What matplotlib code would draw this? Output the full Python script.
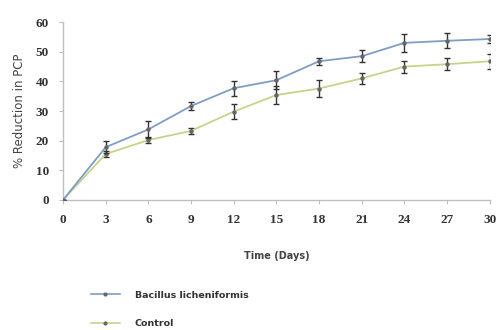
import matplotlib
matplotlib.use("Agg")
import matplotlib.pyplot as plt
from matplotlib.lines import Line2D

days = [0, 3, 6, 9, 12, 15, 18, 21, 24, 27, 30]
bacillus = [0, 17.8, 23.8, 31.7, 37.7, 40.4, 46.8, 48.5, 53.0, 53.7, 54.3]
bacillus_err = [0, 2.0, 3.0, 1.5, 2.5, 3.0, 1.2, 2.0, 3.0, 2.5, 1.5]
control = [0, 15.5, 20.2, 23.3, 29.8, 35.4, 37.6, 41.0, 45.0, 45.8, 46.8]
control_err = [0, 1.0, 1.0, 1.0, 2.5, 3.0, 3.0, 2.0, 2.0, 2.0, 2.5]
yticks = [0, 10, 20, 30, 40, 50, 60]
series_names = ["Bacillus licheniformis", "Control"]

fig = plt.figure(figsize=(5.02, 3.30), dpi=100)
ax = fig.add_axes([0.1255, 0.394, 0.850, 0.539])

blue = "#7f9dc6"
green = "#c5d48a"
ebar = "#333333"
mark = "#666666"

ax.errorbar(days, bacillus, yerr=bacillus_err, color=blue, lw=1.3,
            marker="o", ms=2.2, mfc=mark, mec=mark,
            ecolor=ebar, elinewidth=1.0, capsize=2.5, capthick=1.0, zorder=3)
ax.errorbar(days, control, yerr=control_err, color=green, lw=1.3,
            marker="o", ms=2.2, mfc=mark, mec=mark,
            ecolor=ebar, elinewidth=1.0, capsize=2.5, capthick=1.0, zorder=2)

ax.set_xlim(0, 30)
ax.set_ylim(0, 60)
ax.set_xticks(days)
ax.set_yticks(yticks)

tick_font = dict(family="Liberation Serif", weight="bold", size=9.5)
ax.set_xticklabels([str(d) for d in days], fontdict=tick_font, color="#333333")
ax.set_yticklabels([str(v) for v in yticks], fontdict=tick_font, color="#333333")

for side in ("top", "right"):
    ax.spines[side].set_visible(False)
for side in ("left", "bottom"):
    ax.spines[side].set_color("#bfbfbf")
    ax.spines[side].set_linewidth(1.0)
ax.tick_params(axis="both", length=3, color="#bfbfbf", pad=7)

ax.set_ylabel("% Reduction in PCP", fontsize=8.5, color="#444444",
              family="DejaVu Sans", labelpad=7)
ax.set_xlabel("Time (Days)", fontsize=7, fontweight="bold", color="#444444",
              family="DejaVu Sans", labelpad=18)

handles = [
    Line2D([], [], color=blue, lw=1.2, marker="o", ms=2, mfc=mark, mec=mark),
    Line2D([], [], color=green, lw=1.2, marker="o", ms=2, mfc=mark, mec=mark),
]
leg = fig.legend(handles, series_names, loc="upper left",
                 bbox_to_anchor=(0.165, 0.145), frameon=False, fontsize=6.8,
                 handlelength=3.0, labelspacing=2.1, handletextpad=1.6)
for t in leg.get_texts():
    t.set_fontweight("bold")
    t.set_color("#333333")

fig.savefig("out.png", dpi=100, facecolor="white")
